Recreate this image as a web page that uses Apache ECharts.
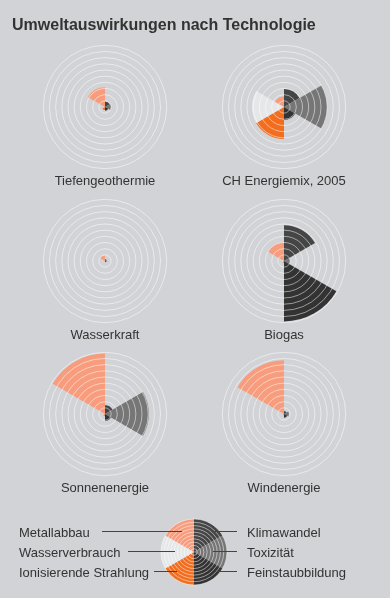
<!DOCTYPE html>
<html><head><meta charset="utf-8">
<script src="https://cdn.jsdelivr.net/npm/echarts@6/dist/echarts.min.js"></script>
<style>html,body{margin:0;padding:0;background:#fff}#c{width:390px;height:598px;background:#d2d3d6}</style>
</head><body><div id="c"></div>
<script>
// Impact categories (clockwise from 12 o'clock)
const categories = ['Klimawandel','Toxizität','Feinstaubbildung','Ionisierende Strahlung','Wasserverbrauch','Metallabbau'];
const categoryColors = ['#454545','#767676','#333333','#f26d1d','#e6e7e8','#f89c7e'];
const technologies = ['Tiefengeothermie','CH Energiemix, 2005','Wasserkraft','Biogas','Sonnenenergie','Windenergie'];
// Radial extent (0-10 scale) per technology, order as categories
const tiefengeothermie = [0.9, 1.0, 0.6, 0.5, 0.2, 3.2];
const chEnergiemix     = [2.9, 7.0, 2.1, 5.2, 5.2, 1.7];
const wasserkraft      = [0.3, 0.3, 0.2, 0.1, 0.1, 0.9];
const biogas           = [5.8, 1.0, 9.8, 0.3, 0.3, 3.0];
const sonnenenergie    = [1.4, 7.1, 1.1, 0.3, 0.2, 9.8];
const windenergie      = [0.5, 0.8, 0.6, 0.2, 0.1, 8.7];
const legendValues     = [10, 10, 10, 10, 10, 10];
const title = 'Umweltauswirkungen nach Technologie';

const seriesData = [tiefengeothermie, chEnergiemix, wasserkraft, biogas, sonnenenergie, windenergie, legendValues];
const centers = [[105,107],[284,107],[105,261],[284,261],[105,414],[284,414],[194,552]];
const radii = [61.7,61.7,61.7,61.7,61.7,61.7,33];
const FONT = '"Liberation Sans", Arial, sans-serif';

const polar = [], angleAxis = [], radiusAxis = [], series = [];
seriesData.forEach((vals, i) => {
  polar.push({center: centers[i], radius: [0, radii[i]]});
  angleAxis.push({polarIndex: i, type: 'category', data: categories, startAngle: 90, clockwise: true,
    axisLine: {show: false}, axisTick: {show: false}, axisLabel: {show: false}, splitLine: {show: false}});
  radiusAxis.push({polarIndex: i, type: 'value', min: 0, max: 10, interval: 1, z: 10,
    axisLine: {show: false}, axisTick: {show: false}, axisLabel: {show: false},
    splitLine: {show: true, lineStyle: {color: 'rgba(255,255,255,0.5)', width: 1}}});
  series.push({type: 'bar', coordinateSystem: 'polar', polarIndex: i, barCategoryGap: '0%', z: 2,
    data: vals.map((v, k) => ({value: v, itemStyle: {color: categoryColors[k]}})),
    emphasis: {disabled: true}, silent: true});
});

const graphic = [{type: 'text', left: 12, top: 18, style: {text: title, font: 'bold 16px ' + FONT, fill: '#333'}}];
technologies.forEach((t, i) => {
  graphic.push({type: 'text', x: centers[i][0], y: centers[i][1] + 74,
    style: {text: t, font: '13px ' + FONT, fill: '#333', align: 'center', verticalAlign: 'middle'}});
});
const legLeft = [[categories[5], 533, 102, 182], [categories[4], 553, 128, 175], [categories[3], 573, 154, 177]];
const legRight = [[categories[0], 533, 213, 237], [categories[1], 553, 213, 237], [categories[2], 573, 217, 237]];
legLeft.forEach(([t, y, x1, x2]) => {
  graphic.push({type: 'text', x: 19, y: y, style: {text: t, font: '13px ' + FONT, fill: '#333', verticalAlign: 'middle'}});
  graphic.push({type: 'line', z: 100, shape: {x1: x1, y1: y - 1.5, x2: x2, y2: y - 1.5}, style: {stroke: '#444', lineWidth: 1}});
});
legRight.forEach(([t, y, x1, x2]) => {
  graphic.push({type: 'text', x: 247, y: y, style: {text: t, font: '13px ' + FONT, fill: '#333', verticalAlign: 'middle'}});
  graphic.push({type: 'line', z: 100, shape: {x1: x1, y1: y - 1.5, x2: x2, y2: y - 1.5}, style: {stroke: '#444', lineWidth: 1}});
});

const chart = echarts.init(document.getElementById('c'));
chart.setOption({animation: false, backgroundColor: '#d2d3d6', polar, angleAxis, radiusAxis, series, graphic});
</script></body></html>
